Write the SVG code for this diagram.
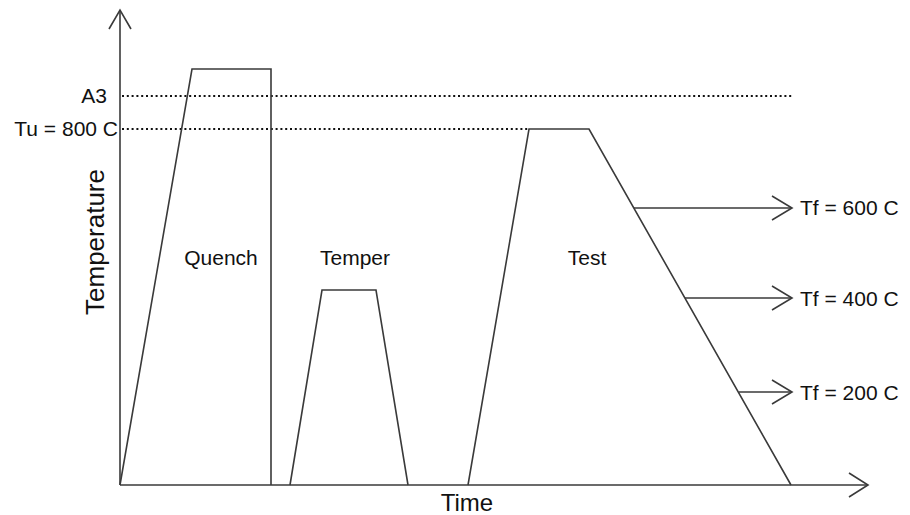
<svg xmlns="http://www.w3.org/2000/svg" width="910" height="515" viewBox="0 0 910 515">
<style>
.ln{fill:none;stroke:#3a3a3a;stroke-width:1.6;stroke-linejoin:miter}
.dot{fill:none;stroke:#111;stroke-width:2.2;stroke-dasharray:2 2.8}
.t{font-family:"Liberation Sans",Arial,sans-serif;fill:#111;font-size:21px}
</style>
<rect width="910" height="515" fill="#fff"/>
<g id="connectors">
<line class="dot" x1="122" y1="96" x2="793" y2="96"/>
<line class="dot" x1="122" y1="129" x2="528" y2="129"/>
<line class="ln" x1="120" y1="485" x2="120" y2="10"/>
<polyline class="ln" points="109,29 120,10 131,29"/>
<line class="ln" x1="120" y1="485" x2="868" y2="485"/>
<polyline class="ln" points="849,473 868,485 849,497"/>
<line class="ln" x1="634" y1="208" x2="792" y2="208"/>
<polyline class="ln" points="772,196 792,208 772,220"/>
<line class="ln" x1="685" y1="298" x2="792" y2="298"/>
<polyline class="ln" points="772,286 792,298 772,310"/>
<line class="ln" x1="739" y1="392" x2="792" y2="392"/>
<polyline class="ln" points="772,380 792,392 772,404"/>
</g>
<g id="quench">
<polyline class="ln" points="120,485 192,69 271,69 271,485"/>
<text class="t" x="221" y="265" text-anchor="middle">Quench</text>
</g>
<g id="temper">
<polyline class="ln" points="290,485 322,290 376,290 408,485"/>
<text class="t" x="355" y="265" text-anchor="middle">Temper</text>
</g>
<g id="test">
<polyline class="ln" points="468,485 529,129 589,129 791,485"/>
<text class="t" x="587" y="265" text-anchor="middle">Test</text>
</g>
<g id="labels">
<text class="t" x="107" y="103" text-anchor="end">A3</text>
<text class="t" x="118" y="136" text-anchor="end">Tu = 800 C</text>
<text class="t" x="800" y="215">Tf = 600 C</text>
<text class="t" x="800" y="306">Tf = 400 C</text>
<text class="t" x="800" y="400">Tf = 200 C</text>
<text class="t" x="467" y="511" text-anchor="middle" style="font-size:24px">Time</text>
<text class="t" transform="translate(104,242) rotate(-90)" text-anchor="middle" style="font-size:26px">Temperature</text>
</g>
</svg>
